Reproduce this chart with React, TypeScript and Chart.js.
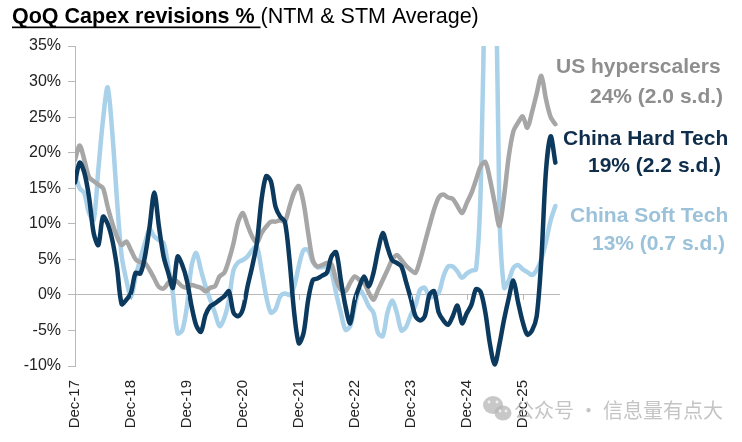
import React, { useEffect, useRef } from "react";
import { Chart, registerables } from "chart.js";

Chart.register(...registerables);

// ---------- data ----------
const MONTHS = ["Jan", "Feb", "Mar", "Apr", "May", "Jun", "Jul", "Aug", "Sep", "Oct", "Nov", "Dec"];
const START_YEAR = 2017; // first category is Dec-17
const CATEGORY_COUNT = 105; // Dec-17 .. Aug-26 (last slot empty)

const categories: string[] = [];
for (let i = 0; i < CATEGORY_COUNT; i++) {
  const m = (11 + i) % 12;
  const y = START_YEAR + Math.floor((11 + i) / 12);
  categories.push(`${MONTHS[m]}-${String(y % 100).padStart(2, "0")}`);
}

const TICK_LABELS = ["Dec-17", "Dec-18", "Dec-19", "Dec-20", "Dec-21", "Dec-22", "Dec-23", "Dec-24", "Dec-25"];

const Y_MIN = -10;
const Y_MAX = 35;
const Y_STEP = 5;

const chinaHardTech = [
  15.8, 18.6, 17.2, 13.8, 8.7, 7.0, 11.0, 10.0, 7.7, 3.9,
  -1.3, -0.7, 0.3, 3.1, 3.0, 5.4, 9.6, 14.4, 9.6, 5.4,
  3.1, 1.0, 5.4, 4.2, 2.0, -1.6, -4.3, -5.2, -2.8, -1.6,
  -1.2, -0.7, -0.2, 0.5, -2.5, -3.0, -2.0, 1.2, 4.0, 7.3,
  13.4, 16.7, 16.0, 12.4, 11.0, 10.3, 4.9, -2.5, -6.8, -5.4,
  -0.7, 2.1, 2.3, 2.7, 3.1, 5.4, 6.0, 2.1, -1.6, -4.0,
  -0.7, 1.2, 2.6, 1.2, 3.1, 6.3, 8.7, 6.7, 4.9,
  4.5, 4.0, 1.8, -0.5, -3.0, -3.6, -3.0, 0.0, 0.5, -2.5, -3.6,
  -4.2, -3.0, -1.5, -4.0, -2.6, -1.4, 0.8, 0.4, -2.5, -7.0,
  -9.8, -7.0, -3.5, -0.5, 2.0, -1.0, -3.8, -5.6, -5.0, -3.0,
  5.0, 17.5, 22.3, 18.6,
];

const usHyperscalers = [
  19.0, 21.0, 19.0, 16.6, 16.0, 15.5, 15.0, 12.4, 10.1, 8.2,
  7.0, 7.5, 6.3, 5.0, 4.6, 4.5, 3.5, 2.3, 1.1, 0.9,
  1.7, 2.3, 1.8, 1.2, 1.0, 1.4, 1.2, 1.0, 0.5, 1.0,
  1.2, 2.6, 3.1, 4.9, 7.3, 10.3, 11.5, 9.8, 8.2, 7.3,
  8.7, 9.6, 10.3, 10.3, 10.5, 10.3, 12.4, 14.4, 15.3, 13.0,
  8.7, 4.9, 4.0, 4.2, 4.5, 4.3, 2.1, 0.7, 0.5, 1.7,
  2.6, 2.1, 1.7, 0.3, -0.7, 0.7, 2.1, 3.5, 4.9, 5.6,
  4.9, 4.1, 3.5, 3.1, 4.9, 7.3, 9.7, 12.0, 13.7, 14.1,
  13.7, 13.5, 12.5, 11.5, 12.9, 14.3, 16.2, 18.1, 18.7, 16.2,
  12.9, 9.7, 13.8, 19.4, 23.0, 24.2, 25.1, 23.5, 25.7, 28.3,
  30.8, 27.5, 25.0, 24.0,
];

const chinaSoftTech = [
  17.0, 15.0, 14.3, 11.5, 10.5, 17.6, 24.6, 29.2, 22.8, 13.4,
  5.5, 2.1, -0.3, 2.6, 5.0, 7.3, 9.2, 8.2, 7.7, 7.3,
  4.0, 0.2, -5.4, -5.0, -1.6, 4.1, 5.9, 3.5, 1.2, -0.7,
  -2.5, -4.4, -3.3, -0.7, 3.5, 4.6, 4.9, 5.4, 6.3, 6.8,
  3.5, -0.2, -2.5, -2.0, -0.2, 0.2, 0.0, 1.2, 4.1, 6.3,
  6.3, 4.6, 3.9, 3.9, 4.0, 3.1, 0.2, -2.5, -4.9, -4.4,
  -1.6, 0.7, -0.2, -1.6, -2.5, -5.4, -5.8, -2.5, -0.8,
  -2.5, -5.0, -4.5, -2.8, -1.5, 0.7, 1.0, -0.3, -0.2, 0.3, 2.6,
  4.0, 4.0, 3.3, 2.4, 3.0, 3.4, 3.6, 15, 50, 90,
  60, 12, 1.0, 2.0, 3.8, 4.2, 3.6, 3.2, 2.8, 3.5,
  5.0, 7.5, 10.5, 12.5,
];

const SERIES_NAMES = ["US hyperscalers", "China Hard Tech", "China Soft Tech"];
const SERIES_NOTES = ["24% (2.0 s.d.)", "19% (2.2 s.d.)", "13% (0.7 s.d.)"];

const TITLE_BOLD = "QoQ Capex revisions %";
const TITLE_REST = "(NTM & STM Average)";
const WATERMARK = "公众号 · 信息量有点大";

// ---------- styles ----------
const FONT = '"Liberation Sans", Arial, sans-serif';
const C_NAVY = "#0c3a5e";
const C_GREY = "#a6a6a6";
const C_LIGHT = "#a9d1ea";
const C_NAVY_TEXT = "#0f2e4c";
const C_GREY_TEXT = "#8e8e8e";
const C_LIGHT_TEXT = "#9cc2da";
const C_AXIS = "#b8b8b8";

const overlayPlugin = {
  id: "overlay",
  afterDraw(chart: any) {
    const ctx = chart.ctx as CanvasRenderingContext2D;
    ctx.save();
    ctx.textAlign = "left";
    ctx.textBaseline = "alphabetic";

    // small tick marks under the zero line at each labelled December
    const xs = chart.scales.x;
    const ys = chart.scales.y;
    const y0 = ys.getPixelForValue(0);
    ctx.strokeStyle = C_AXIS;
    ctx.lineWidth = 1;
    TICK_LABELS.forEach((lab) => {
      const idx = categories.indexOf(lab);
      if (idx < 0) return;
      const x = Math.round(xs.getPixelForValue(idx)) + 0.5;
      ctx.beginPath();
      ctx.moveTo(x, y0);
      ctx.lineTo(x, y0 + 5);
      ctx.stroke();
    });

    // title
    ctx.fillStyle = "#000";
    ctx.font = `bold 21.5px ${FONT}`;
    const boldText = TITLE_BOLD + " ";
    ctx.fillText(boldText, 12, 23);
    const bw = ctx.measureText(boldText).width;
    ctx.fillRect(12, 26.5, bw, 1.7);
    ctx.font = `21.5px ${FONT}`;
    ctx.fillText(TITLE_REST, 12 + bw, 23);

    // series annotations
    const colors = [C_GREY_TEXT, C_NAVY_TEXT, C_LIGHT_TEXT];
    const nameX = [556, 563, 570];
    const nameY = [73, 145, 222];
    const noteX = [590, 588, 592];
    const noteY = [103, 172, 250];
    ctx.font = `bold 21px ${FONT}`;
    SERIES_NAMES.forEach((name, i) => {
      ctx.fillStyle = colors[i];
      ctx.fillText(name, nameX[i], nameY[i]);
      ctx.fillText(SERIES_NOTES[i], noteX[i], noteY[i]);
    });

    // watermark
    ctx.globalAlpha = 0.75;
    ctx.fillStyle = "#b5b5b5";
    ctx.beginPath();
    ctx.ellipse(493, 405, 10, 9, 0, 0, Math.PI * 2);
    ctx.fill();
    ctx.beginPath();
    ctx.ellipse(503, 413, 8.5, 7.5, 0, 0, Math.PI * 2);
    ctx.fill();
    ctx.fillStyle = "#fff";
    [[489, 402], [497, 402], [500, 411], [506, 411]].forEach(([ex, ey]) => {
      ctx.beginPath();
      ctx.arc(ex, ey, 1.4, 0, Math.PI * 2);
      ctx.fill();
    });
    ctx.fillStyle = "#b0b0b0";
    ctx.font = `20px "Noto Sans CJK SC", sans-serif`;
    ctx.textBaseline = "middle";
    ctx.fillText(WATERMARK, 514, 410);
    ctx.restore();
  },
};

export default function App() {
  const ref = useRef<HTMLCanvasElement | null>(null);

  useEffect(() => {
    document.body.style.margin = "0";
    const canvas = ref.current;
    if (!canvas) return;

    const lineBase = {
      pointRadius: 0,
      borderWidth: 4.5,
      tension: 0.3,
      borderJoinStyle: "round" as const,
      borderCapStyle: "round" as const,
      fill: false,
      clip: { left: 0, top: 0, right: 10, bottom: 10 },
    };

    const chart = new Chart(canvas, {
      type: "line",
      data: {
        labels: categories,
        datasets: [
          { ...lineBase, label: SERIES_NAMES[1], data: chinaHardTech, borderColor: C_NAVY, order: 0 },
          { ...lineBase, label: SERIES_NAMES[0], data: usHyperscalers, borderColor: C_GREY, order: 1 },
          { ...lineBase, label: SERIES_NAMES[2], data: chinaSoftTech, borderColor: C_LIGHT, order: 2 },
        ],
      },
      options: {
        responsive: false,
        animation: false,
        layout: { padding: { left: 0, right: 182, top: 46, bottom: 0 } },
        plugins: {
          legend: { display: false },
          tooltip: { enabled: false },
          title: { display: false },
        },
        scales: {
          x: {
            type: "category",
            offset: false,
            grid: { display: false },
            border: { display: false },
            afterFit: (s: any) => {
              s.height = 76;
            },
            ticks: {
              autoSkip: false,
              maxRotation: 90,
              minRotation: 90,
              padding: 6,
              color: "#222",
              font: { family: FONT, size: 15 },
              callback: (_v: any, i: number) => (TICK_LABELS.includes(categories[i]) ? categories[i] : ""),
            },
          },
          y: {
            min: Y_MIN,
            max: Y_MAX,
            afterFit: (s: any) => {
              s.width = 75;
            },
            border: { display: true, color: C_AXIS, width: 1 },
            grid: {
              drawOnChartArea: true,
              drawTicks: true,
              tickLength: 7,
              tickColor: C_AXIS,
              color: (c: any) => (c.tick && c.tick.value === 0 ? C_AXIS : "rgba(0,0,0,0)"),
            },
            ticks: {
              stepSize: Y_STEP,
              padding: 7,
              color: "#222",
              font: { family: FONT, size: 16 },
              callback: (v: any) => `${v}%`,
            },
          },
        },
      },
      plugins: [overlayPlugin],
    });

    return () => chart.destroy();
  }, []);

  return (
    <div style={{ width: 742, height: 442, position: "relative" }}>
      <canvas ref={ref} width={742} height={442} style={{ width: 742, height: 442, display: "block" }} />
    </div>
  );
}
